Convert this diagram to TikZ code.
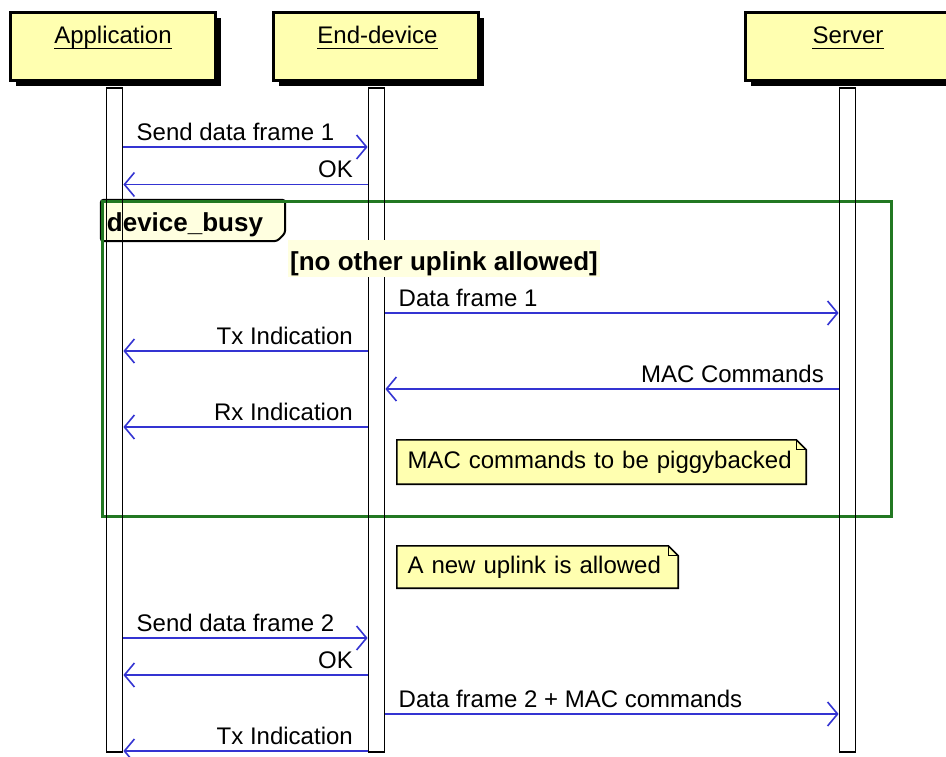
\documentclass[tikz,border=0pt]{standalone}
\usepackage{fontspec}
\setmainfont{Liberation Sans}
\usetikzlibrary{arrows.meta,shadows,backgrounds}
\definecolor{partfill}{RGB}{255,255,176}
\definecolor{msgblue}{RGB}{52,52,210}
\definecolor{grpgreen}{RGB}{34,120,34}
\definecolor{tabfill}{RGB}{255,255,224}
\begin{document}
\begin{tikzpicture}[x=1pt,y=-1pt,
  regfont/.style={font=\fontsize{24}{28}\selectfont},
  boldfont/.style={font=\bfseries\fontsize{26}{30}\selectfont},
  partbox/.style={draw=black, line width=3pt, fill=partfill, minimum width=205pt, minimum height=68pt, inner sep=0pt,
     drop shadow={shadow xshift=6pt, shadow yshift=-6pt, fill=black, opacity=1}},
  partlbl/.style={regfont, inner sep=0pt, anchor=base},
  uline/.style={draw=black, line width=1.6pt},
  life/.style={draw=black, line width=1.8pt, minimum width=16pt, minimum height=664pt, inner sep=0pt},
  msg/.style={draw=msgblue, line width=1.6pt, -{Straight Barb[length=10pt,width=24pt,line width=1.6pt]}},
  rlbl/.style={regfont, inner sep=0pt, anchor=base west, xshift=12.5pt, yshift=7pt},
  llbl/.style={regfont, inner sep=0pt, anchor=base east, xshift=-14pt, yshift=7pt},
  grp/.style={draw=grpgreen, line width=3pt, minimum width=789pt, minimum height=315pt, inner sep=0pt},
  tabtxt/.style={boldfont, text width=172pt, align=left, inner xsep=6pt, inner ysep=0pt, text height=32pt, text depth=9pt},
  tabline/.style={draw=black, line width=2pt, fill=tabfill, rounded corners=3pt},
  guard/.style={boldfont, fill=tabfill, inner xsep=2pt, inner ysep=0pt, text height=30pt, text depth=7pt},
  notetxt/.style={regfont, align=left, inner xsep=10.5pt, inner ysep=0pt},
  noteline/.style={draw=black, line width=1.6pt, fill=partfill},
  foldline/.style={draw=black, line width=1.3pt}
]
\useasboundingbox (0,0) rectangle (946,756);
\clip (0,0) rectangle (946,756);

% participants
\node[partbox] (appbox) at (112.5,46) {};
\node[partbox] (endbox) at (375.5,46) {};
\node[partbox] (srvbox) at (847.5,46) {};
\node[partlbl] (applbl) at (113,43) {Application};
\node[partlbl] (endlbl) at (377.5,43) {End-device};
\node[partlbl] (srvlbl) at (848,43) {Server};
\draw[uline] ([yshift=-5.5pt]applbl.base west) -- ([yshift=-5.5pt]applbl.base east);
\draw[uline] ([yshift=-5.5pt]endlbl.base west) -- ([yshift=-5.5pt]endlbl.base east);
\draw[uline] ([yshift=-5.5pt]srvlbl.base west) -- ([yshift=-5.5pt]srvlbl.base east);

% group
\node[grp] (busy) at (496.75,358.75) {};
\node[tabtxt, anchor=north west] (tabn) at (busy.north west) {device\_busy};
\begin{scope}[on background layer]
\draw[tabline] (tabn.north west) -- (tabn.north east) -- ([yshift=8pt]tabn.south east)
   -- ([xshift=-8pt]tabn.south east) -- (tabn.south west) -- cycle;
\end{scope}

% lifelines
\node[life] (appl) at (114.5,420) {};
\node[life] (endl) at (376.5,420) {};
\node[life] (srvl) at (847.5,420) {};

\node[guard, anchor=base west] (grd) at (288,270) {[no other uplink allowed]};

% messages
\draw[msg] (appl.east |- 0,147) -- (endl.west |- 0,147) node[rlbl, pos=0] {Send data frame 1};
\draw[msg] (endl.west |- 0,184.5) -- (appl.east |- 0,184.5) node[llbl, pos=0] {OK};
\draw[msg] (endl.east |- 0,313) -- (srvl.west |- 0,313) node[rlbl, pos=0] {Data frame 1};
\draw[msg] (endl.west |- 0,351) -- (appl.east |- 0,351) node[llbl, pos=0] {Tx Indication};
\draw[msg] (srvl.west |- 0,389) -- (endl.east |- 0,389) node[llbl, pos=0] {MAC Commands};
\draw[msg] (endl.west |- 0,427) -- (appl.east |- 0,427) node[llbl, pos=0] {Rx Indication};
\draw[msg] (appl.east |- 0,638) -- (endl.west |- 0,638) node[rlbl, pos=0] {Send data frame 2};
\draw[msg] (endl.west |- 0,675) -- (appl.east |- 0,675) node[llbl, pos=0] {OK};
\draw[msg] (endl.east |- 0,714) -- (srvl.west |- 0,714) node[rlbl, pos=0] {Data frame 2 + MAC commands};
\draw[msg] (endl.west |- 0,751) -- (appl.east |- 0,751) node[llbl, pos=0] {Tx Indication};

% notes
\node[notetxt, text width=388pt, minimum height=44pt] (n1) at (601.5,462) {MAC commands to be piggybacked};
\node[notetxt, text width=260pt, minimum height=42pt] (n2) at (537.5,567) {A new uplink is allowed};
\begin{scope}[on background layer]
\foreach \n in {n1,n2}{
  \draw[noteline] (\n.north west) -- ([xshift=-10pt]\n.north east) -- ([yshift=-10pt]\n.north east)
     -- (\n.south east) -- (\n.south west) -- cycle;
  \draw[foldline] ([xshift=-10pt]\n.north east) -- ([xshift=-10pt,yshift=-10pt]\n.north east) -- ([yshift=-10pt]\n.north east);
}
\end{scope}
\end{tikzpicture}
\end{document}
